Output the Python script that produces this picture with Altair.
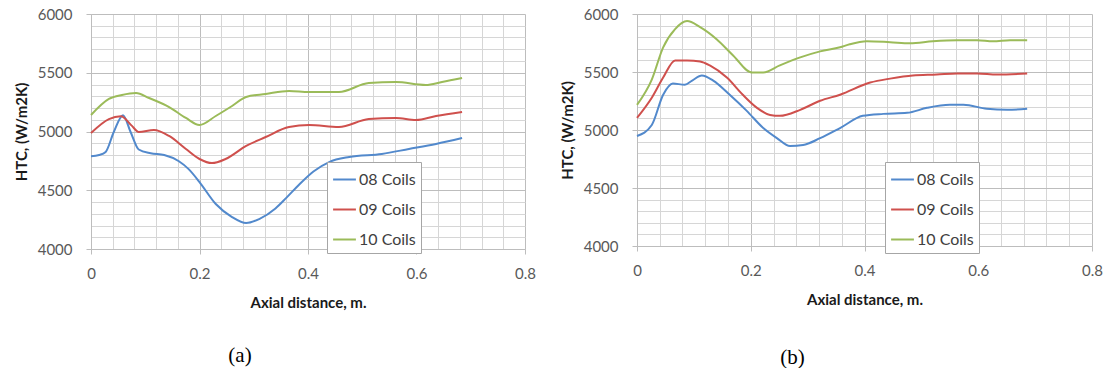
import altair as alt
import pandas as pd

# ---------------- data ----------------
SERIES = ["08 Coils", "09 Coils", "10 Coils"]
COLORS = ["#5289CC", "#CF504D", "#9BBB59"]

# panel (a)
A08_X = [0, 0.015, 0.027, 0.042, 0.059, 0.073, 0.088, 0.11, 0.135, 0.162, 0.18, 0.2, 0.23, 0.26, 0.286,
         0.31, 0.34, 0.36, 0.383, 0.41, 0.439, 0.476, 0.536, 0.586, 0.636, 0.684]
A08_Y = [4790, 4800, 4826, 4996, 5139, 4996, 4847, 4815, 4800, 4747, 4680, 4570, 4383, 4272, 4221,
         4255, 4345, 4435, 4545, 4660, 4740, 4783, 4809, 4851, 4894, 4944]
A09_X = [0, 0.033, 0.055, 0.075, 0.088, 0.116, 0.144, 0.175, 0.2, 0.223, 0.248, 0.286, 0.322, 0.365,
         0.402, 0.457, 0.512, 0.562, 0.599, 0.636, 0.684]
A09_Y = [4987, 5106, 5130, 5050, 4996, 5013, 4962, 4851, 4766, 4731, 4766, 4877, 4953, 5038,
         5055, 5038, 5106, 5115, 5098, 5132, 5166]
A10_X = [0, 0.033, 0.057, 0.083, 0.107, 0.144, 0.175, 0.2, 0.23, 0.26, 0.286, 0.322, 0.365, 0.402,
         0.457, 0.512, 0.562, 0.617, 0.647, 0.684]
A10_Y = [5140, 5277, 5311, 5328, 5285, 5208, 5115, 5055, 5132, 5217, 5294, 5319, 5345, 5336,
         5336, 5413, 5421, 5396, 5421, 5455]

# panel (b)
B08_X = [0, 0.026, 0.046, 0.063, 0.084, 0.097, 0.114, 0.134, 0.163, 0.193, 0.222, 0.246, 0.269, 0.292,
         0.322, 0.357, 0.397, 0.433, 0.475, 0.51, 0.55, 0.574, 0.615, 0.651, 0.686]
B08_Y = [4948, 5043, 5304, 5400, 5391, 5426, 5470, 5426, 5304, 5165, 5017, 4930, 4861, 4870,
         4930, 5017, 5122, 5139, 5148, 5191, 5217, 5217, 5183, 5174, 5183]
B09_X = [0, 0.026, 0.046, 0.067, 0.088, 0.111, 0.128, 0.158, 0.186, 0.211, 0.234, 0.251, 0.287, 0.322,
         0.357, 0.41, 0.445, 0.485, 0.527, 0.563, 0.598, 0.633, 0.686]
B09_Y = [5104, 5278, 5452, 5600, 5600, 5591, 5557, 5452, 5304, 5191, 5130, 5122, 5174, 5252,
         5304, 5409, 5443, 5470, 5478, 5487, 5487, 5478, 5487]
B10_X = [0, 0.026, 0.046, 0.067, 0.088, 0.111, 0.14, 0.169, 0.202, 0.222, 0.251, 0.287, 0.322, 0.357,
         0.374, 0.404, 0.445, 0.48, 0.52, 0.563, 0.598, 0.626, 0.656, 0.686]
B10_Y = [5217, 5435, 5713, 5870, 5939, 5887, 5783, 5643, 5496, 5496, 5557, 5626, 5678, 5713,
         5739, 5765, 5757, 5748, 5765, 5774, 5774, 5765, 5774, 5774]

# axis tick / grid values
X_GRID = [0, 0.04, 0.08, 0.12, 0.16, 0.2, 0.24, 0.28, 0.32, 0.36, 0.4, 0.44, 0.48, 0.52, 0.56, 0.6,
          0.64, 0.68, 0.72, 0.76, 0.8]
Y_GRID = [4000, 4100, 4200, 4300, 4400, 4500, 4600, 4700, 4800, 4900, 5000, 5100, 5200, 5300, 5400,
          5500, 5600, 5700, 5800, 5900, 6000]

X_TITLE = "Axial distance, m."
Y_TITLE = "HTC, (W/m2K)"


def frame(pairs):
    rows = []
    for name, xs, ys in pairs:
        for i, (x, y) in enumerate(zip(xs, ys)):
            rows.append({"series": name, "x": x, "y": y, "order": i})
    return pd.DataFrame(rows)


df_a = frame([(SERIES[0], A08_X, A08_Y), (SERIES[1], A09_X, A09_Y), (SERIES[2], A10_X, A10_Y)])
df_b = frame([(SERIES[0], B08_X, B08_Y), (SERIES[1], B09_X, B09_Y), (SERIES[2], B10_X, B10_Y)])

X_MAJOR = "abs(datum.value*5 - round(datum.value*5)) < 0.001"
Y_MAJOR = "abs(datum.value/500 - round(datum.value/500)) < 0.001"


def panel(df, w, h, lx, ly, label, dx, off):
    x_axis = alt.Axis(
        values=X_GRID, format="~g",
        labelExpr=f"{X_MAJOR} ? datum.label : ''",
        tickOpacity={"condition": {"test": X_MAJOR, "value": 1}, "value": 0},
        gridColor={"condition": {"test": X_MAJOR, "value": "#bdbdbd"}, "value": "#d6d6d6"},
        labelOverlap=False, labelFlush=False, tickSize=5, labelPadding=12,
        titlePadding=14,
    )
    y_axis = alt.Axis(
        values=Y_GRID, format="d",
        labelExpr=f"{Y_MAJOR} ? datum.label : ''",
        tickOpacity={"condition": {"test": Y_MAJOR, "value": 1}, "value": 0},
        gridColor={"condition": {"test": Y_MAJOR, "value": "#bdbdbd"}, "value": "#d6d6d6"},
        labelOverlap=False, tickSize=5, labelPadding=14, titlePadding=8,
    )
    legend = alt.Legend(
        orient="none", legendX=lx, legendY=ly, title=None,
        symbolType="stroke", symbolStrokeWidth=2, symbolSize=520,
        labelFont="Lato", labelFontSize=16, labelColor="#404040",
        strokeColor="#a6a6a6", fillColor="white", padding=5, rowPadding=9,
        labelOffset=2,
    )
    return alt.Chart(df).mark_line(interpolate="monotone", strokeWidth=2).encode(
        x=alt.X("x:Q", title=X_TITLE, axis=x_axis,
                scale=alt.Scale(domain=[0, 0.8], nice=False, zero=False)),
        y=alt.Y("y:Q", title=Y_TITLE, axis=y_axis,
                scale=alt.Scale(domain=[4000, 6000], nice=False, zero=False)),
        color=alt.Color("series:N", scale=alt.Scale(domain=SERIES, range=COLORS), legend=legend),
        order="order:Q",
    ).properties(
        width=w, height=h,
        title=alt.TitleParams(text=label, orient="bottom", anchor="middle", frame="group",
                              dx=dx, offset=off, font="Liberation Serif", fontSize=21,
                              fontWeight="normal", color="#000000"),
    )


chart_a = panel(df_a, 434, 235, 236, 148, "(a)", -68, 35)
chart_b = panel(df_b, 455, 232, 248, 148, "(b)", -72, 40)

chart = alt.hconcat(chart_a, chart_b, spacing=24).resolve_scale(color="independent").configure(
    background="white",
    padding={"left": 14, "top": 7, "right": 0, "bottom": 0},
).configure_view(stroke=None).configure_axis(
    labelFont="Lato", labelFontSize=15, labelColor="#595959",
    titleFont="Lato", titleFontSize=15, titleFontWeight="bold", titleColor="#1a1a1a",
    domainColor="#bdbdbd", tickColor="#bdbdbd", gridWidth=1,
)

chart.save("out.html", embed_options={"renderer": "svg", "actions": False})
